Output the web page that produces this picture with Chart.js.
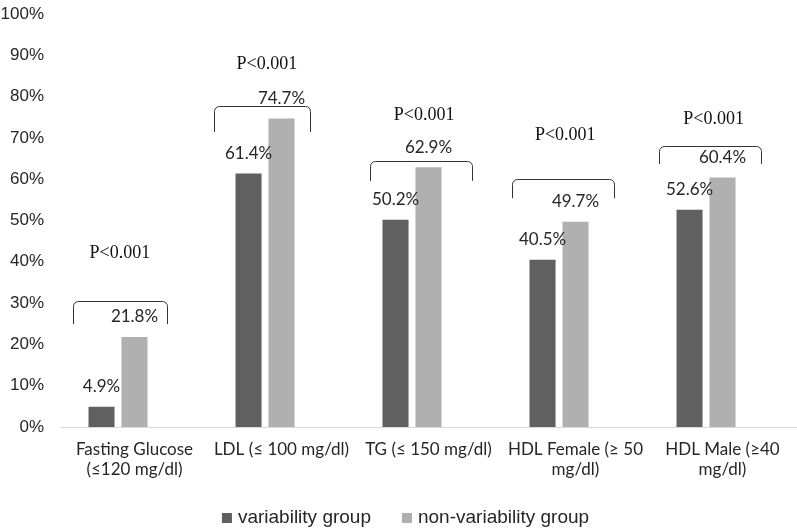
<!DOCTYPE html>
<html>
<head>
<meta charset="utf-8">
<script src="https://cdn.jsdelivr.net/npm/chart.js@4.4.1/dist/chart.umd.min.js"></script>
<style>
html,body{margin:0;padding:0;background:#fff;}
#wrap{width:797px;height:531px;position:relative;}
</style>
</head>
<body>
<div id="wrap"><canvas id="c"></canvas></div>
<script>
// ---- data ----
const categories = [
  ["Fasting Glucose", "(≤120 mg/dl)"],
  "LDL (≤ 100 mg/dl)",
  "TG (≤ 150 mg/dl)",
  ["HDL Female (≥ 50", "mg/dl)"],
  ["HDL Male (≥40", "mg/dl)"]
];
const seriesNames = ["variability group", "non-variability group"];
const variabilityGroup = [4.9, 61.4, 50.2, 40.5, 52.6];
const nonVariabilityGroup = [21.8, 74.7, 62.9, 49.7, 60.4];
const pValueLabels = ["P<0.001", "P<0.001", "P<0.001", "P<0.001", "P<0.001"];
const yTickValues = [0, 10, 20, 30, 40, 50, 60, 70, 80, 90, 100];

// annotation placement (value units: % on y, category fraction on x)
const bracketTop = [30.5, 77.7, 64.4, 60.0, 68.0];
const bracketBottom = [24.9, 71.4, 59.6, 55.4, 63.7];
const bracketLeft = [-0.415, -0.456, -0.395, -0.435, -0.435];
const bracketRight = [0.224, 0.197, 0.299, 0.265, 0.265];
const pValueY = [42.1, 87.9, 75.5, 70.7, 74.6];
const pValueX = [-0.10, -0.10, -0.03, -0.07, -0.06];

const annotPlugin = {
  id: 'annot',
  afterDatasetsDraw(chart) {
    const ctx = chart.ctx;
    const xs = chart.scales.x, ys = chart.scales.y;
    const cw = xs.getPixelForValue(1) - xs.getPixelForValue(0);
    ctx.save();
    // value labels
    ctx.font = '17px Lato';
    ctx.fillStyle = '#262626';
    ctx.textAlign = 'center';
    ctx.textBaseline = 'middle';
    [0, 1].forEach(di => {
      const meta = chart.getDatasetMeta(di);
      meta.data.forEach((bar, i) => {
        const v = chart.data.datasets[di].data[i];
        ctx.fillText(v.toFixed(1) + '%', bar.x, bar.y - 20);
      });
    });
    // brackets
    ctx.strokeStyle = '#333';
    ctx.lineWidth = 1;
    const r = 5;
    categories.forEach((c, i) => {
      const cx = xs.getPixelForValue(i);
      const l = Math.round(cx + bracketLeft[i] * cw) + 0.5;
      const rt = Math.round(cx + bracketRight[i] * cw) + 0.5;
      const t = Math.round(ys.getPixelForValue(bracketTop[i])) + 0.5;
      const b = ys.getPixelForValue(bracketBottom[i]);
      ctx.beginPath();
      ctx.moveTo(l, b);
      ctx.lineTo(l, t + r);
      ctx.arcTo(l, t, l + r, t, r);
      ctx.lineTo(rt - r, t);
      ctx.arcTo(rt, t, rt, t + r, r);
      ctx.lineTo(rt, b);
      ctx.stroke();
      ctx.font = '18px "Liberation Serif"';
      ctx.fillStyle = '#111';
      ctx.fillText(pValueLabels[i], cx + pValueX[i] * cw, ys.getPixelForValue(pValueY[i]));
    });
    // legend
    ctx.font = '19px "Liberation Sans"';
    ctx.textAlign = 'left';
    ctx.textBaseline = 'middle';
    const items = chart.data.datasets.filter(d => d.label);
    const box = 10, gapText = 6, gapItem = 31;
    let total = 0;
    items.forEach((d, k) => {
      total += box + gapText + ctx.measureText(d.label).width + (k < items.length - 1 ? gapItem : 0);
    });
    let x = chart.width / 2 + 7 - total / 2;
    const yc = 518;
    items.forEach(d => {
      ctx.fillStyle = d.backgroundColor;
      ctx.fillRect(x, yc - 5, box, box);
      x += box + gapText;
      ctx.fillStyle = '#262626';
      ctx.fillText(d.label, x, yc);
      x += ctx.measureText(d.label).width + gapItem;
    });
    ctx.restore();
  }
};

new Chart(document.getElementById('c'), {
  type: 'bar',
  data: {
    labels: categories,
    datasets: [
      { label: seriesNames[0], data: variabilityGroup, backgroundColor: '#606060' },
      { label: seriesNames[1], data: nonVariabilityGroup, backgroundColor: '#b0b0b0' },
      { label: '', data: categories.map(() => null), backgroundColor: 'rgba(0,0,0,0)' }
    ]
  },
  options: {
    responsive: true,
    maintainAspectRatio: false,
    animation: false,
    categoryPercentage: 0.673,
    barPercentage: 0.79,
    layout: { autoPadding: false, padding: { top: 14, right: 1, left: 0, bottom: 0 } },
    plugins: {
      tooltip: { enabled: false },
      legend: { display: false }
    },
    scales: {
      x: {
        grid: { display: false, drawTicks: false },
        border: { display: true, color: '#d9d9d9', width: 1 },
        ticks: {
          color: '#262626',
          font: { family: 'Lato', size: 17, lineHeight: 1.2 },
          padding: 12,
          maxRotation: 0,
          autoSkip: false
        },
        afterFit(s) { s.height = 104; }
      },
      y: {
        min: 0, max: 100,
        grid: { display: false, drawTicks: false },
        border: { display: false },
        afterBuildTicks(s) { s.ticks = yTickValues.map(v => ({ value: v })); },
        ticks: {
          color: '#262626',
          font: { family: '"Liberation Sans"', size: 17 },
          padding: 17,
          callback: v => v + '%'
        },
        afterFit(s) { s.width = 61; s.paddingTop = 0; s.paddingBottom = 0; }
      }
    }
  },
  plugins: [annotPlugin]
});
</script>
</body>
</html>
